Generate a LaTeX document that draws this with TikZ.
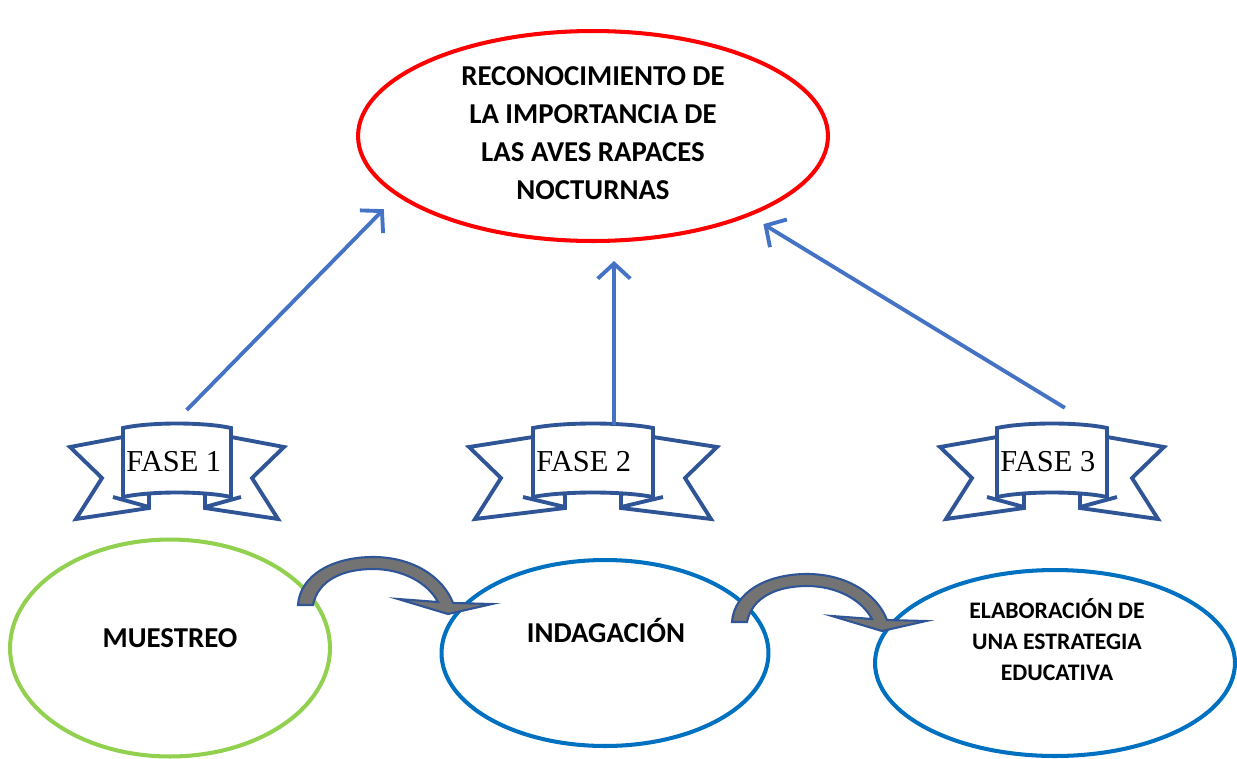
\documentclass[tikz,border=0pt]{standalone}
\usepackage{fontspec}
\setmainfont{Carlito}
\newfontfamily\fasefont{Liberation Serif}
\usetikzlibrary{shapes.geometric,arrows.meta}

\definecolor{ovalred}{HTML}{FF0000}
\definecolor{ovalgreen}{HTML}{92D050}
\definecolor{ovalblue}{HTML}{0070C0}
\definecolor{linkblue}{HTML}{4472C4}
\definecolor{ribbonblue}{HTML}{2F5597}
\definecolor{bendgray}{HTML}{737373}

\tikzset{
  oval/.style={ellipse, draw, line width=2.3pt, inner sep=0pt},
  bigtext/.style={font=\bfseries\fontsize{16.4}{21.5}\selectfont, align=center, inner sep=0pt},
  smalltext/.style={font=\bfseries\fontsize{13.5}{17.6}\selectfont, align=center, inner sep=0pt},
  fasetext/.style={font=\fasefont\fontsize{17.3}{20}\selectfont, inner sep=0pt},
  uparrow/.style={draw=linkblue, line width=2.2pt, -{Straight Barb[length=3mm,width=6.5mm]}},
  ribbon/.style={draw=ribbonblue, line width=2.2pt, fill=white, miter limit=10},
  bendarrow/.style={draw=ribbonblue, line width=1.2pt, fill=bendgray},
}

\begin{document}
\begin{tikzpicture}[x=0.02cm,y=-0.02cm]
\useasboundingbox (0,0) rectangle (1237,758);

% top goal
\node[oval, draw=ovalred, minimum width=9.4cm, minimum height=4.2cm] (recon) at (593,136) {};
\node[bigtext] (recon-txt) at (593,133) {RECONOCIMIENTO DE\\LA IMPORTANCIA DE\\LAS AVES RAPACES\\NOCTURNAS};

% ribbons with the phases
\foreach \cx/\w/\p/\ax/\n in {177/107/54/-5/1, 593/124/60/21/2, 1052/112/55/41/3} {
  \foreach \side in {-1,1} {
    \begin{scope}[shift={(\cx,0)}, xscale=\side]
      \draw[ribbon] (-\p,437) -- (-\w,447) -- (-\w+32,478) -- (-\w+6,519) -- (-28,508) -- (-28,496) -- cycle;
      \draw[ribbon] (-\p-10,497) -- (-28,507);
    \end{scope}
  }
  \draw[ribbon] (\cx-\p,428) .. controls (\cx-\p/2,422) and (\cx+\p/2,422) .. (\cx+\p,428)
                -- (\cx+\p,497) .. controls (\cx+\p/2,491) and (\cx-\p/2,491) .. (\cx-\p,497) -- cycle;
  \coordinate (tail\n) at (\cx+\ax,425);
  \node[fasetext, anchor=base west] (fase\n) at (\cx-\p+3,471) {FASE \n};
}

% arrows up to the goal
\draw[uparrow, shorten <=0.42cm, shorten >=0.37cm] (tail1) -- (recon.197);
\draw[uparrow, shorten >=0.36cm] (tail2) -- (tail2 |- recon.south);
\draw[uparrow, shorten <=0.66cm, shorten >=0.31cm] (tail3) -- (recon.333);

% bottom ovals
\node[oval, draw=ovalgreen, minimum width=6.4cm, minimum height=4.34cm] (muestreo) at (170,648) {};
\node[bigtext] (muestreo-txt) at (170,638) {MUESTREO};

\node[oval, draw=ovalblue, minimum width=6.54cm, minimum height=3.72cm] (indagacion) at (605,653) {};
\node[bigtext] (indagacion-txt) at (606,630) {INDAGACIÓN};

\node[oval, draw=ovalblue, minimum width=7.2cm, minimum height=3.72cm] (estrategia) at (1055,663) {};
\node[smalltext] (estrategia-txt) at (1057,640) {ELABORACIÓN DE\\UNA ESTRATEGIA\\EDUCATIVA};

% curved arrows between the ovals
\foreach \bx/\by in {298/605, 732/622}
  \draw[bendarrow, shift={(\bx,\by)}] (0,0) .. controls (2,-30) and (35,-48) .. (75,-48)
        .. controls (115,-48) and (145,-28) .. (155,-2) -- (194,-1) -- (150,9) -- (100,-6) -- (140,-3)
        .. controls (130,-22) and (105,-36) .. (75,-36) .. controls (45,-36) and (20,-25) .. (15,0) -- cycle;
\end{tikzpicture}
\end{document}
